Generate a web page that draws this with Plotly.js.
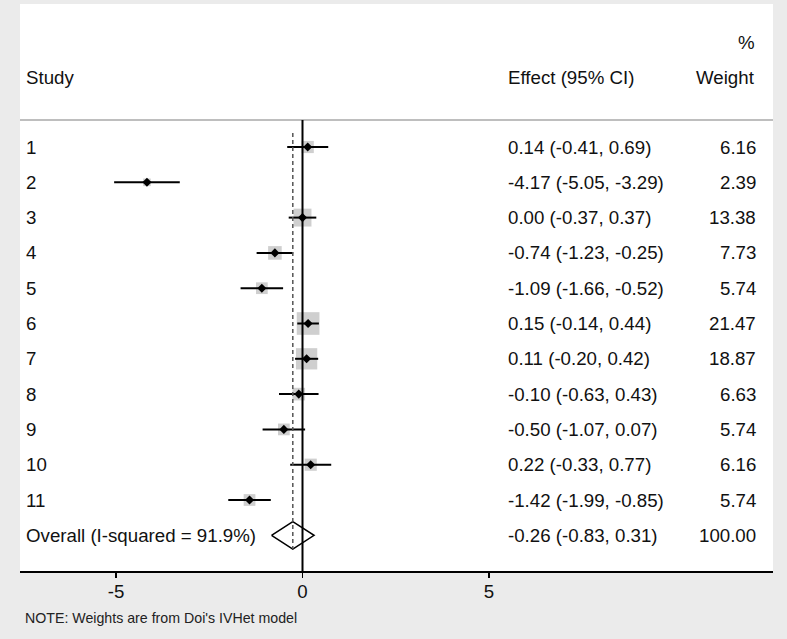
<!DOCTYPE html>
<html>
<head>
<meta charset="utf-8">
<script src="https://cdn.plot.ly/plotly-3.0.1.min.js"></script>
<style>html,body{margin:0;padding:0;background:#ebebeb;}#chart{width:787px;height:639px;}</style>
</head>
<body>
<div id="chart"></div>
<script>
// ---- data ----
const studies = ['1','2','3','4','5','6','7','8','9','10','11'];
const effect  = [0.14, -4.17, 0.00, -0.74, -1.09, 0.15, 0.11, -0.10, -0.50, 0.22, -1.42];
const ciLow   = [-0.41, -5.05, -0.37, -1.23, -1.66, -0.14, -0.20, -0.63, -1.07, -0.33, -1.99];
const ciHigh  = [0.69, -3.29, 0.37, -0.25, -0.52, 0.44, 0.42, 0.43, 0.07, 0.77, -0.85];
const weights = [6.16, 2.39, 13.38, 7.73, 5.74, 21.47, 18.87, 6.63, 5.74, 6.16, 5.74];
const overallLabel = 'Overall (I-squared = 91.9%)';
const overallEffect = -0.26;
const overallLow = -0.83;
const overallHigh = 0.31;
const overallWeight = 100.00;
const tickValues = [-5, 0, 5];
const tickLabels = ['-5', '0', '5'];
const note = "NOTE: Weights are from Doi's IVHet model";

// ---- layout helpers ----
const W = 787, H = 639;
const mL = 20, mR = 14, mT = 4, mB = 68;
const pw = W - mL - mR;
const rows = studies.map((s, i) => i + 1);
const overallRow = studies.length + 1;
const headerRow = 0.235;
const FONT = 'Liberation Sans, Arial, sans-serif';
const txt = '#111';
const FS = 18.7;

function fmt(v){ return v.toFixed(2); }
function px2paper(px){ return (px - mL) / pw; }

const boxTrace = {
  x: effect, y: rows, type: 'scatter', mode: 'markers',
  marker: {symbol: 'square', size: weights.map(w => 4.9 * Math.sqrt(w)), color: 'rgb(186,186,186)',
           line: {width: 0}},
  hoverinfo: 'skip', showlegend: false
};
const ciTrace = {
  x: effect, y: rows, type: 'scatter', mode: 'markers',
  marker: {symbol: 'diamond', size: 7, color: '#000'},
  error_x: {type: 'data', symmetric: false,
            array: effect.map((e, i) => ciHigh[i] - e),
            arrayminus: effect.map((e, i) => e - ciLow[i]),
            color: '#000', thickness: 2, width: 0},
  showlegend: false
};
const dh = 0.39;
const diamond = {
  x: [overallLow, overallEffect, overallHigh, overallEffect, overallLow],
  y: [overallRow, overallRow - dh, overallRow, overallRow + dh, overallRow],
  type: 'scatter', mode: 'lines', fill: 'toself', fillcolor: '#fff',
  line: {color: '#000', width: 1.5}, showlegend: false
};

const annotations = [];
function addText(x, y, text, anchor, size){
  annotations.push({xref: 'paper', yref: 'y', x: x, y: y, text: text, showarrow: false,
    xanchor: anchor, yanchor: 'middle', borderpad: 0, borderwidth: 0,
    font: {family: FONT, size: size || FS, color: txt}});
}
addText(px2paper(26), -0.98, 'Study', 'left');
addText(px2paper(508), -0.98, 'Effect (95% CI)', 'left');
addText(px2paper(755), -0.98, 'Weight', 'right');
addText(px2paper(755), -1.95, '%', 'right');
studies.forEach((s, i) => {
  addText(px2paper(26), rows[i], s, 'left');
  addText(px2paper(508), rows[i], fmt(effect[i]) + ' (' + fmt(ciLow[i]) + ', ' + fmt(ciHigh[i]) + ')', 'left');
  addText(px2paper(756), rows[i], fmt(weights[i]), 'right');
});
addText(px2paper(26), overallRow, overallLabel, 'left');
addText(px2paper(508), overallRow, fmt(overallEffect) + ' (' + fmt(overallLow) + ', ' + fmt(overallHigh) + ')', 'left');
addText(px2paper(756), overallRow, fmt(overallWeight), 'right');
annotations.push({xref: 'paper', yref: 'paper', x: px2paper(25), y: -(618 - (H - mB)) / (H - mT - mB),
  text: note, showarrow: false, xanchor: 'left', yanchor: 'middle', borderpad: 0, borderwidth: 0,
  font: {family: FONT, size: 14.2, color: '#222'}});

const pxPerUnit = 37.3, zeroPx = 302.5;
const xr = [(mL - zeroPx) / pxPerUnit, (W - mR - zeroPx) / pxPerUnit];
const rowPx = 35.3, row1Px = 147;
const yr = [1 + (H - mB - row1Px) / rowPx, 1 + (mT - row1Px) / rowPx];

const layout = {
  width: W, height: H,
  margin: {l: mL, r: mR, t: mT, b: mB, pad: 0},
  paper_bgcolor: '#ebebeb', plot_bgcolor: '#ffffff',
  font: {family: FONT, color: txt},
  xaxis: {range: xr, tickmode: 'array', tickvals: tickValues, ticktext: tickLabels,
          showgrid: false, zeroline: false, showline: true, linecolor: '#000', linewidth: 2,
          ticks: 'outside', ticklen: 5, tickwidth: 1.5, tickcolor: '#000', ticklabelstandoff: -2,
          tickfont: {family: FONT, size: FS, color: txt}, fixedrange: true},
  yaxis: {range: yr, showgrid: false, zeroline: false, showticklabels: false, showline: false,
          ticks: '', fixedrange: true},
  shapes: [
    {type: 'line', xref: 'paper', yref: 'y', x0: 0, x1: 1, y0: headerRow, y1: headerRow,
     line: {color: '#a8a8a8', width: 1.5}},
    {type: 'line', xref: 'x', yref: 'y', x0: 0, x1: 0, y0: headerRow, y1: yr[0],
     line: {color: '#000', width: 2}},
    {type: 'line', xref: 'x', yref: 'y', x0: overallEffect, x1: overallEffect, y0: 0.6, y1: overallRow + dh,
     line: {color: '#555', width: 1.5, dash: '4px,3px'}}
  ],
  annotations: annotations,
  showlegend: false
};

Plotly.newPlot('chart', [boxTrace, ciTrace, diamond], layout, {displayModeBar: false, staticPlot: true});
</script>
</body>
</html>
